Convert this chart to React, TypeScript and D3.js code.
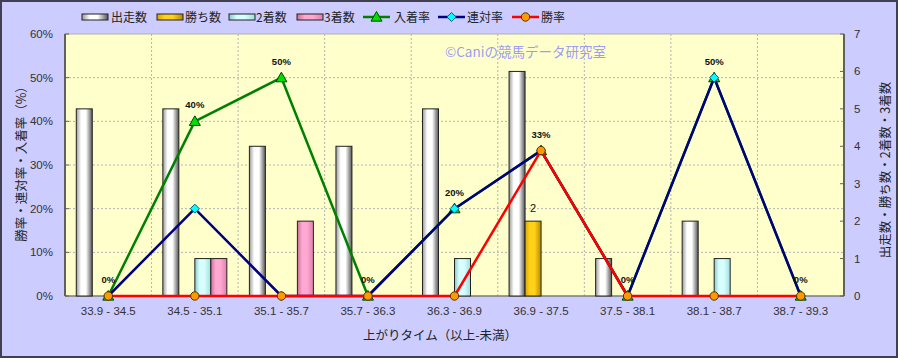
import React from "react";
import * as d3 from "d3";

const categories = ["33.9 - 34.5", "34.5 - 35.1", "35.1 - 35.7", "35.7 - 36.3", "36.3 - 36.9", "36.9 - 37.5", "37.5 - 38.1", "38.1 - 38.7", "38.7 - 39.3"];
const runs = [5, 5, 4, 4, 5, 6, 1, 2, 0];
const wins = [0, 0, 0, 0, 0, 2, 0, 0, 0];
const seconds = [0, 1, 0, 0, 1, 0, 0, 1, 0];
const thirds = [0, 1, 2, 0, 0, 0, 0, 0, 0];
const placeRate = [0, 40, 50, 0, 20, 33.3, 0, 50, 0];
const quinellaRate = [0, 20, 0, 0, 20, 33.3, 0, 50, 0];
const winRate = [0, 0, 0, 0, 0, 33.3, 0, 0, 0];
const leftTicks = [0, 10, 20, 30, 40, 50, 60];
const rightTicks = [0, 1, 2, 3, 4, 5, 6, 7];
const winLabelIndex = 5;

const W = 898, H = 358;
const L = 65, R = 844, T = 34, B = 296;
const JP = "'Noto Sans CJK JP', 'Liberation Sans', sans-serif";
const NUM = "'Liberation Sans', Arial, sans-serif";

const barSeries = [
  { key: "runs", name: "出走数", values: runs, grad: "gGray", c0: "#9a9a9a", c1: "#ffffff", c2: "#555555" },
  { key: "wins", name: "勝ち数", values: wins, grad: "gGold", c0: "#d9a400", c1: "#ffd21a", c2: "#b88a00" },
  { key: "seconds", name: "2着数", values: seconds, grad: "gCyan", c0: "#88c8c8", c1: "#d8ffff", c2: "#9fdede" },
  { key: "thirds", name: "3着数", values: thirds, grad: "gPink", c0: "#cc6f99", c1: "#ffa8d2", c2: "#e07fae" },
];

const lineSeries = [
  { key: "place", name: "入着率", values: placeRate, color: "#008000", marker: "tri", fill: "#00dd00" },
  { key: "quin", name: "連対率", values: quinellaRate, color: "#000080", marker: "dia", fill: "#00ffff" },
  { key: "win", name: "勝率", values: winRate, color: "#ff0000", marker: "cir", fill: "#ff9900" },
];

function Marker({ type, x, y, fill }: { type: string; x: number; y: number; fill: string }) {
  if (type === "tri") {
    const s = 5.5;
    return <path d={`M${x},${y - s} L${x + s},${y + s * 0.75} L${x - s},${y + s * 0.75} Z`} fill={fill} stroke="#004400" strokeWidth={1} />;
  }
  if (type === "dia") {
    const s = 4.5;
    return <path d={`M${x},${y - s} L${x + s},${y} L${x},${y + s} L${x - s},${y} Z`} fill={fill} stroke="#006080" strokeWidth={1} />;
  }
  return <circle cx={x} cy={y} r={4.2} fill={fill} stroke="#553300" strokeWidth={1} />;
}

export default function App() {
  const x = d3.scaleBand<string>().domain(categories).range([L, R]).padding(0);
  const bw = x.bandwidth();
  const barW = 16;
  const outer = (bw - barW * 4) / 2 / barW;
  const xi = d3.scaleBand<string>().domain(barSeries.map((s) => s.key)).range([0, bw]).paddingInner(0).paddingOuter(outer);
  const yL = d3.scaleLinear().domain([0, 60]).range([B, T]);
  const yR = d3.scaleLinear().domain([0, 7]).range([B, T]);
  const cx = (i: number) => (x(categories[i]) as number) + bw / 2;

  const lineGen = (vals: number[]) =>
    d3.line<number>().x((_, i) => cx(i)).y((v) => yL(v))(vals) as string;

  const legendItems = [
    { type: "bar", s: barSeries[0], x: 82, tx: 111 },
    { type: "bar", s: barSeries[1], x: 157, tx: 185 },
    { type: "bar", s: barSeries[2], x: 229, tx: 256 },
    { type: "bar", s: barSeries[3], x: 297, tx: 324 },
    { type: "line", s: lineSeries[0], x: 363, tx: 394 },
    { type: "line", s: lineSeries[1], x: 438, tx: 467 },
    { type: "line", s: lineSeries[2], x: 512, tx: 541 },
  ];

  return (
    <svg width={W} height={H} style={{ position: "absolute", left: 0, top: 0 }}>
      <defs>
        {barSeries.map((s) => (
          <linearGradient key={s.grad} id={s.grad} x1="0" x2="1" y1="0" y2="0">
            <stop offset="0" stopColor={s.c0} />
            <stop offset="0.3" stopColor={s.c1} />
            <stop offset="0.6" stopColor={s.c1} />
            <stop offset="1" stopColor={s.c2} />
          </linearGradient>
        ))}
      </defs>
      <rect x={1} y={1} width={W - 2} height={H - 2} fill="#ccccff" stroke="#404052" strokeWidth={2} />
      <rect x={L} y={T} width={R - L} height={B - T} fill="#ffffcc" stroke="#b0b0b0" strokeWidth={1} />

      {/* grid */}
      {leftTicks.slice(1, -1).map((t) => (
        <line key={"h" + t} x1={L} x2={R} y1={yL(t)} y2={yL(t)} stroke="#b4b4b4" strokeWidth={1} strokeDasharray="2,2" />
      ))}
      {categories.slice(1).map((c) => (
        <line key={"v" + c} x1={x(c) as number} x2={x(c) as number} y1={T} y2={B} stroke="#b4b4b4" strokeWidth={1} strokeDasharray="2,2" />
      ))}

      <text x={445} y={57} fontFamily={JP} fontSize={13.5} fill="#9c9cf4">©Caniの競馬データ研究室</text>

      {/* axes lines */}
      <line x1={L} x2={L} y1={T} y2={B} stroke="#606060" strokeWidth={2} />
      <line x1={R} x2={R} y1={T} y2={B} stroke="#606060" strokeWidth={2} />
      <line x1={L} x2={R} y1={B} y2={B} stroke="#606060" strokeWidth={1} />
      {leftTicks.map((t) => (
        <g key={"lt" + t}>
          <line x1={L} x2={L + 4} y1={yL(t)} y2={yL(t)} stroke="#606060" />
          <text x={53} y={yL(t) + 4} textAnchor="end" fontFamily={NUM} fontSize={11.5} fill="#333">{t}%</text>
        </g>
      ))}
      {rightTicks.map((t) => (
        <g key={"rt" + t}>
          <line x1={R - 4} x2={R} y1={yR(t)} y2={yR(t)} stroke="#606060" />
          <text x={854} y={yR(t) + 4} textAnchor="start" fontFamily={NUM} fontSize={11.5} fill="#333">{t}</text>
        </g>
      ))}
      {categories.map((c, i) => (
        <text key={"xl" + c} x={cx(i)} y={315} textAnchor="middle" fontFamily={NUM} fontSize={11.5} fill="#333">{c}</text>
      ))}

      {/* titles */}
      <text x={440} y={340} textAnchor="middle" fontFamily={JP} fontSize={12.5} fill="#222">上がりタイム（以上-未満）</text>
      <text transform={`translate(26,161) rotate(-90)`} textAnchor="middle" fontFamily={JP} fontSize={12.5} fill="#222">勝率・連対率・入着率（%）</text>
      <text transform={`translate(890,170) rotate(-90)`} textAnchor="middle" fontFamily={JP} fontSize={12.5} fill="#222">出走数・勝ち数・2着数・3着数</text>

      {/* bars */}
      {barSeries.map((s) =>
        s.values.map((v, i) =>
          v > 0 ? (
            <rect
              key={s.key + i}
              x={(x(categories[i]) as number) + (xi(s.key) as number)}
              y={yR(v)}
              width={xi.bandwidth()}
              height={B - yR(v)}
              fill={`url(#${s.grad})`}
              stroke="#222"
              strokeWidth={1}
            />
          ) : null
        )
      )}
      <text
        x={(x(categories[winLabelIndex]) as number) + (xi("wins") as number) + xi.bandwidth() / 2}
        y={yR(wins[winLabelIndex]) - 9}
        textAnchor="middle"
        fontFamily={NUM}
        fontSize={11}
        fill="#111"
      >
        {wins[winLabelIndex]}
      </text>

      {/* lines */}
      {lineSeries.map((s) => (
        <g key={s.key}>
          <path d={lineGen(s.values)} fill="none" stroke={s.color} strokeWidth={2.5} strokeLinejoin="round" />
          {s.values.map((v, i) => (
            <Marker key={i} type={s.marker} x={cx(i)} y={yL(v)} fill={s.fill} />
          ))}
        </g>
      ))}
      {placeRate.map((v, i) => (
        <text key={"pl" + i} x={cx(i)} y={yL(v) - 13} textAnchor="middle" fontFamily={NUM} fontSize={9.5} fontWeight="bold" fill="#111">
          {Math.round(v)}%
        </text>
      ))}

      {/* legend */}
      {legendItems.map((it, k) => (
        <g key={"lg" + k}>
          {it.type === "bar" ? (
            <rect x={it.x} y={14} width={26} height={6} fill={`url(#${(it.s as any).grad})`} stroke="#222" strokeWidth={1} />
          ) : (
            <g>
              <line x1={it.x} x2={it.x + 27} y1={17} y2={17} stroke={(it.s as any).color} strokeWidth={2.5} />
              <Marker type={(it.s as any).marker} x={it.x + 13.5} y={17} fill={(it.s as any).fill} />
            </g>
          )}
          <text x={it.tx} y={21.5} fontFamily={JP} fontSize={12} fill="#222">{it.s.name}</text>
        </g>
      ))}
    </svg>
  );
}
